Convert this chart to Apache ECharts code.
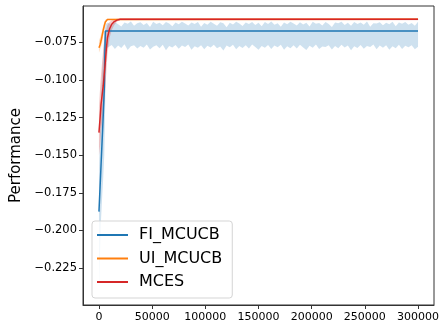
<!DOCTYPE html>
<html>
<head>
<meta charset="utf-8">
<script src="https://cdn.jsdelivr.net/npm/echarts@6/dist/echarts.min.js"></script>
<style>html,body{margin:0;padding:0;background:#fff}#c{width:443px;height:332px}</style>
</head>
<body>
<div id="c"></div>
<script>
// ---- data ----
const seriesNames = ['FI_MCUCB', 'UI_MCUCB', 'MCES'];
const xTicks = [0, 50000, 100000, 150000, 200000, 250000, 300000];
const yTicks = [-0.225, -0.2, -0.175, -0.15, -0.125, -0.1, -0.075];

const fiX    = [0, 1000, 2000, 3000, 4000, 5000, 5500, 6000, 300000];
const fiMean = [-0.1875, -0.172, -0.156, -0.140, -0.124, -0.106, -0.085, -0.0675, -0.0675];

const uiX    = [0, 1000, 2000, 3000, 4000, 5000, 6000, 7000, 8000, 300000];
const uiMean = [-0.0786, -0.0768, -0.074, -0.0705, -0.067, -0.064, -0.0615, -0.0603, -0.0598, -0.0597];
const uiHi   = [-0.074, -0.072, -0.070, -0.067, -0.064, -0.0615, -0.0600, -0.0596, -0.0594, -0.0594];
const uiLo   = [-0.082, -0.080, -0.078, -0.075, -0.071, -0.067, -0.0632, -0.0612, -0.0602, -0.0600];

const mcX    = [0, 1000, 2000, 3000, 4000, 5000, 6000, 7000, 8000, 10000, 12000, 14000, 17000, 20000, 300000];
const mcMean = [-0.135, -0.126, -0.116, -0.110, -0.104, -0.096, -0.088, -0.079, -0.072, -0.066, -0.063, -0.0615, -0.0603, -0.0597, -0.0597];
const mcHi   = [-0.118, -0.106, -0.096, -0.088, -0.080, -0.074, -0.069, -0.066, -0.0635, -0.0615, -0.0605, -0.0600, -0.0594, -0.0591, -0.0591];
const mcLo   = [-0.150, -0.144, -0.134, -0.128, -0.124, -0.116, -0.106, -0.094, -0.083, -0.072, -0.067, -0.064, -0.0612, -0.0603, -0.0603];

// FI band: early part then sampled every 3000 steps from 9000 to 300000
const fiBandEarlyX  = [0, 1000, 2000, 3000, 4000, 5000, 6000, 7000, 8000];
const fiBandEarlyHi = [-0.160, -0.135, -0.112, -0.095, -0.082, -0.072, -0.064, -0.0625, -0.0620];
const fiBandEarlyLo = [-0.241, -0.215, -0.192, -0.178, -0.165, -0.150, -0.110, -0.080, -0.0785];
const fiBandLo = [
-0.0782,-0.0768,-0.0795,-0.0771,-0.0788,-0.0763,-0.0801,-0.0776,-0.0769,-0.0792,
-0.0774,-0.0786,-0.0765,-0.0798,-0.0779,-0.0770,-0.0789,-0.0766,-0.0803,-0.0775,
-0.0784,-0.0768,-0.0793,-0.0772,-0.0781,-0.0764,-0.0799,-0.0777,-0.0787,-0.0769,
-0.0796,-0.0773,-0.0785,-0.0767,-0.0790,-0.0778,-0.0804,-0.0771,-0.0783,-0.0766,
-0.0797,-0.0775,-0.0788,-0.0770,-0.0792,-0.0764,-0.0781,-0.0800,-0.0774,-0.0786,
-0.0768,-0.0794,-0.0772,-0.0783,-0.0766,-0.0799,-0.0776,-0.0789,-0.0770,-0.0791,
-0.0767,-0.0784,-0.0802,-0.0773,-0.0787,-0.0765,-0.0795,-0.0778,-0.0782,-0.0769,
-0.0798,-0.0774,-0.0790,-0.0766,-0.0785,-0.0771,-0.0803,-0.0777,-0.0788,-0.0768,
-0.0793,-0.0775,-0.0781,-0.0764,-0.0797,-0.0772,-0.0786,-0.0770,-0.0800,-0.0776,
-0.0789,-0.0767,-0.0794,-0.0773,-0.0783,-0.0769,-0.0796,-0.0779];
const fiBandHi = [
-0.0621,-0.0638,-0.0615,-0.0630,-0.0645,-0.0619,-0.0627,-0.0612,-0.0641,-0.0624,
-0.0617,-0.0635,-0.0622,-0.0648,-0.0614,-0.0629,-0.0620,-0.0637,-0.0616,-0.0626,
-0.0643,-0.0618,-0.0631,-0.0613,-0.0625,-0.0639,-0.0619,-0.0628,-0.0615,-0.0646,
-0.0622,-0.0633,-0.0614,-0.0627,-0.0640,-0.0617,-0.0624,-0.0650,-0.0620,-0.0632,
-0.0613,-0.0626,-0.0642,-0.0618,-0.0629,-0.0615,-0.0636,-0.0621,-0.0644,-0.0616,
-0.0628,-0.0612,-0.0634,-0.0623,-0.0647,-0.0619,-0.0630,-0.0614,-0.0625,-0.0639,
-0.0617,-0.0632,-0.0620,-0.0645,-0.0613,-0.0627,-0.0622,-0.0638,-0.0616,-0.0629,
-0.0649,-0.0618,-0.0624,-0.0614,-0.0635,-0.0621,-0.0641,-0.0615,-0.0628,-0.0619,
-0.0633,-0.0612,-0.0646,-0.0623,-0.0626,-0.0617,-0.0637,-0.0620,-0.0631,-0.0613,
-0.0643,-0.0618,-0.0627,-0.0616,-0.0634,-0.0622,-0.0640,-0.0614];
const bandStart = 9000, bandStep = 3000;

// ---- build ----
const fiBX = fiBandEarlyX.slice(), fiBH = fiBandEarlyHi.slice(), fiBL = fiBandEarlyLo.slice();
for (let i = 0; i < fiBandLo.length; i++) {
  fiBX.push(bandStart + i * bandStep);
  fiBH.push(fiBandHi[i]);
  fiBL.push(fiBandLo[i]);
}

const colors = ['#1f77b4', '#ff7f0e', '#d62728'];
const FONT = 'DejaVu Sans';

function zip(xs, ys) { return xs.map((x, i) => [x, ys[i]]); }

function band(name, xs, lo, hi, fill) {
  return {
    type: 'custom', name: name + '_band', silent: true, clip: true,
    data: [[xs[0], lo[0]]],
    renderItem: function (params, api) {
      const pts = [];
      for (let i = 0; i < xs.length; i++) pts.push(api.coord([xs[i], hi[i]]));
      for (let i = xs.length - 1; i >= 0; i--) pts.push(api.coord([xs[i], lo[i]]));
      return { type: 'polygon', shape: { points: pts }, style: { fill: fill } };
    },
    z: 1
  };
}

function line(name, xs, ys, color) {
  return {
    type: 'line', name: name, data: zip(xs, ys), showSymbol: false, symbol: 'none',
    lineStyle: { color: color, width: 1.5 }, itemStyle: { color: color }, z: 3
  };
}

const chart = echarts.init(document.getElementById('c'), null, { renderer: 'canvas' });
chart.setOption({
  animation: false,
  backgroundColor: '#fff',
  grid: { left: 83, right: 9, top: 6, bottom: 27, show: true, borderColor: '#333', borderWidth: 1, backgroundColor: 'transparent' },
  legend: {
    data: seriesNames, orient: 'vertical', left: 92, top: 221,
    icon: 'rect', itemWidth: 31, itemHeight: 2, itemGap: 5.5,
    padding: [5, 10, 7, 5],
    backgroundColor: 'rgba(255,255,255,0.8)', borderColor: '#d5d5d5', borderWidth: 1, borderRadius: 3,
    textStyle: { fontFamily: FONT, fontSize: 16, color: '#000', lineHeight: 18, padding: [0, 0, 0, 6] }
  },
  xAxis: {
    type: 'value', min: -15000, max: 315000,
    axisLine: { show: true, onZero: false, lineStyle: { color: '#333', width: 1 } },
    axisTick: { show: true, inside: false, length: 4, customValues: xTicks, lineStyle: { color: '#333' } },
    axisLabel: { customValues: xTicks, margin: 7, fontFamily: FONT, fontSize: 11, color: '#000', formatter: v => String(v) },
    splitLine: { show: false }
  },
  yAxis: {
    type: 'value', min: -0.2495, max: -0.0509,
    name: 'Performance', nameLocation: 'middle', nameGap: 57, nameRotate: 90,
    nameTextStyle: { fontFamily: FONT, fontSize: 15, color: '#000' },
    axisLine: { show: true, onZero: false, lineStyle: { color: '#333', width: 1 } },
    axisTick: { show: true, inside: false, length: 4, customValues: yTicks, lineStyle: { color: '#333' } },
    axisLabel: { customValues: yTicks, margin: 6, fontFamily: FONT, fontSize: 11.5, color: '#000',
      formatter: v => (v < 0 ? '\u2212' : '') + Math.abs(v).toFixed(3) },
    splitLine: { show: false }
  },
  series: [
    band('FI_MCUCB', fiBX, fiBL, fiBH, 'rgba(31,119,180,0.22)'),
    line('FI_MCUCB', fiX, fiMean, colors[0]),
    band('UI_MCUCB', uiX, uiLo, uiHi, 'rgba(255,127,14,0.25)'),
    line('UI_MCUCB', uiX, uiMean, colors[1]),
    band('MCES', mcX, mcLo, mcHi, 'rgba(214,39,40,0.25)'),
    line('MCES', mcX, mcMean, colors[2])
  ]
});
</script>
</body>
</html>
